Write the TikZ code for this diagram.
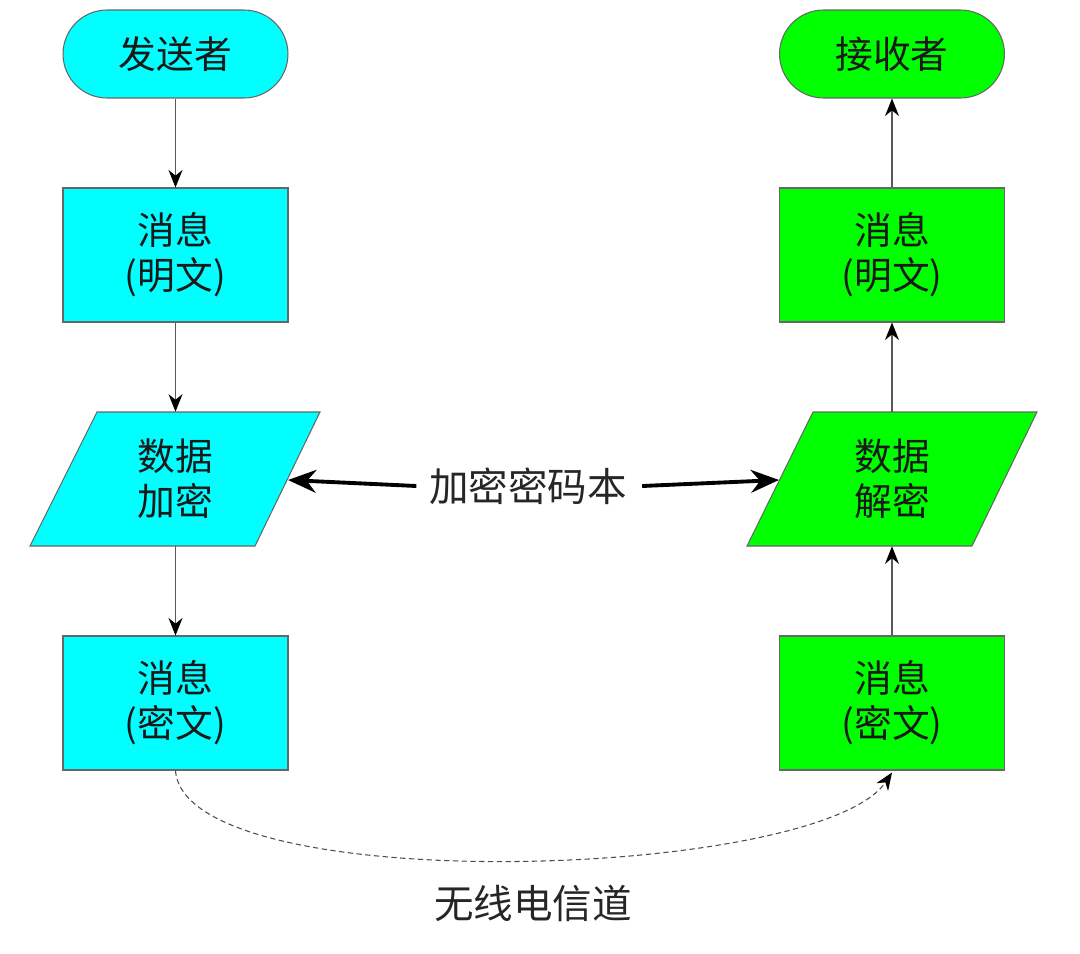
\documentclass[tikz,border=0pt]{standalone}
\usepackage{fontspec}
\setmainfont{Noto Sans CJK SC}
\usetikzlibrary{arrows.meta}
\definecolor{cy}{HTML}{00FFFF}
\definecolor{gr}{HTML}{00FF00}
\tikzset{
  boxtext/.style={font=\fontsize{21.5}{25.5}\selectfont, align=center, text=black!90},
  msgbox/.style={boxtext, draw=black!60, line width=0.6pt, minimum width=4.5cm, minimum height=2.68cm, inner sep=0pt},
  termbox/.style={boxtext, draw=black!60, line width=0.6pt, minimum width=4.5cm, minimum height=1.76cm, rounded corners=0.88cm, inner sep=0pt},
  core/.style={boxtext, minimum width=3cm, minimum height=2.68cm, inner sep=0pt},
  para/.style={draw=black!60, line width=0.6pt},
  thin/.style={draw=black!65, line width=0.6pt, -{Stealth[length=10pt,width=8pt,color=black]}},
  thick/.style={draw=black, line width=2.2pt, -{Stealth[length=16pt,width=13pt]}},
  lbl/.style={font=\fontsize{22.5}{26}\selectfont, text=black!85, inner sep=0pt}
}
\begin{document}
\begin{tikzpicture}[x=0.02cm,y=-0.02cm]
\fill[white] (0,0) rectangle (1080,954);
\useasboundingbox (0,0) rectangle (1080,954);
% left column
\node[termbox, fill=cy] (snd) at (175.5,54) {发送者};
\node[msgbox, fill=cy] (lplain) at (175.5,255) {消息\\(明文)};
\fill[cy] (97,412) -- (320,412) -- (255,546) -- (30,546) -- cycle;
\draw[para] (97,412) -- (320,412) -- (255,546) -- (30,546) -- cycle;
\node[core] (enc) at (175.5,479) {数据\\加密};
\node[msgbox, fill=cy] (lciph) at (175.5,703) {消息\\(密文)};
% right column
\node[termbox, fill=gr] (rcv) at (892,54) {接收者};
\node[msgbox, fill=gr] (rplain) at (892,255) {消息\\(明文)};
\fill[gr] (813,412) -- (1037,412) -- (972,546) -- (747,546) -- cycle;
\draw[para] (813,412) -- (1037,412) -- (972,546) -- (747,546) -- cycle;
\node[core] (dec) at (892,479) {数据\\解密};
\node[msgbox, fill=gr] (rciph) at (892,703) {消息\\(密文)};
% labels
\node[lbl] (key) at (528,486) {加密密码本};
\node[lbl] (chan) at (533,903) {无线电信道};
% edge points on slanted sides
\coordinate (encR) at (288,480);
\coordinate (decL) at (779,480);
% thin arrows
\draw[thin] (snd.south) -- (lplain.north);
\draw[thin] (lplain.south) -- (enc.north);
\draw[thin] (enc.south) -- (lciph.north);
\draw[thin] (rciph.north) -- (dec.south);
\draw[thin] (dec.north) -- (rplain.south);
\draw[thin] (rplain.north) -- (rcv.south);
% thick arrows
\draw[thick] ([xshift=-0.25cm]key.west) -- (encR);
\draw[thick] ([xshift=0.3cm]key.east) -- (decL);
% dashed channel
\draw[draw=black!70, line width=0.6pt, dash pattern=on 3pt off 2pt, -{Stealth[length=10pt,width=8pt,color=black]}]
  (lciph.south) .. controls (185,900) and (820,880) .. ([yshift=-0.04cm]rciph.south);
\end{tikzpicture}
\end{document}
